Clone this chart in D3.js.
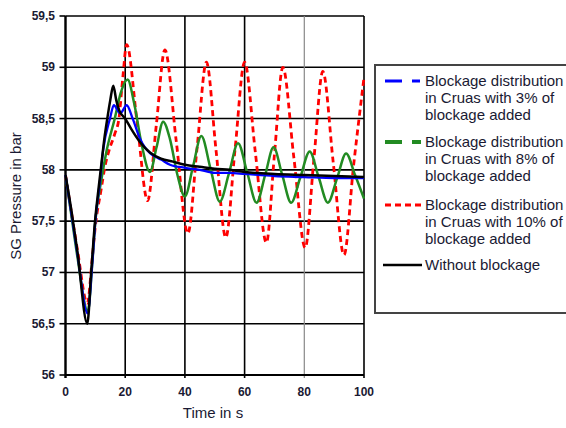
<!DOCTYPE html>
<html><head><meta charset="utf-8">
<script src="https://cdn.jsdelivr.net/npm/d3@7"></script>
<style>body{margin:0;background:#fff}svg{display:block}</style>
</head><body>
<svg id="c" width="566" height="428"></svg>
<script>
const xTicks = [0, 20, 40, 60, 80, 100];
const yTicks = [56, 56.5, 57, 57.5, 58, 58.5, 59, 59.5];
const fmt = v => String(v).replace('.', ',');

const blue3 = [[0,57.95],[2,57.57],[4,57.18],[7.4,56.6],[9,57.1],[10,57.5],[11.5,57.88],[12.6,58.19],[14.9,58.5],[16.2,58.63],[18.3,58.55],[20.5,58.63],[22.5,58.5],[25,58.3],[28.4,58.16],[30,58.13],[32,58.1],[35,58.05],[40,58.02],[45,58.0],[50,57.97],[55,57.97],[60,57.96],[70,57.94],[80,57.93],[90,57.92],[100,57.92]];

const green8 = [[0,57.95],[2,57.55],[4,57.15],[7.5,56.62],[9,57.1],[10,57.5],[12,57.9],[13.8,58.19],[16.5,58.5],[18.5,58.75],[20.8,58.88],[23,58.65],[25.5,58.25],[28.3,57.98],[30.5,58.22],[32.7,58.47],[35,58.3],[37.5,57.95],[40,57.74],[42.7,58.03],[45.5,58.33],[48.6,58.01],[51.7,57.69],[54.8,57.97],[57.8,58.26],[60.9,57.97],[64,57.68],[66.9,57.95],[69.7,58.22],[72.6,57.95],[75.6,57.68],[78.7,57.93],[81.8,58.18],[84.8,57.93],[87.9,57.68],[91,57.92],[94,58.16],[97,57.95],[100,57.72]];

const red10 = [[0,57.95],[2,57.58],[4,57.22],[7.3,56.7],[9,57.15],[10,57.45],[12,57.82],[13.2,58.03],[14.6,58.19],[16.5,58.35],[17.9,58.5],[19.2,58.9],[20.5,59.22],[24,58.46],[27.5,57.7],[30.4,58.43],[33.3,59.17],[37.1,58.28],[41,57.38],[44.1,58.22],[47.2,59.05],[50.4,58.2],[53.7,57.34],[56.8,58.2],[60,59.05],[63.6,58.17],[67.3,57.29],[70,58.15],[72.8,59.0],[76.5,58.12],[80.3,57.24],[83.2,58.1],[86.2,58.96],[89.7,58.07],[93.3,57.17],[96.5,58.04],[100,58.9]];

const noBlock = [[0,57.95],[2,57.6],[4,57.2],[7.3,56.5],[8.6,57.0],[9.9,57.5],[11,57.8],[12,58.05],[13,58.3],[14,58.5],[15,58.68],[16,58.82],[17,58.68],[18,58.58],[20,58.5],[22,58.4],[25,58.27],[28.3,58.17],[32,58.11],[36,58.08],[40,58.05],[45,58.03],[50,58.01],[55,58.0],[60,57.98],[70,57.96],[80,57.95],[90,57.94],[100,57.93]];

const seriesNames = ["Blockage distribution|in Cruas with 3% of|blockage added","Blockage distribution|in Cruas with 8% of|blockage added","Blockage distribution|in Cruas with 10% of|blockage added","Without blockage"];

const svg = d3.select('#c');
const x = d3.scaleLinear().domain([0,100]).range([65.5,364]);
const y = d3.scaleLinear().domain([56,59.5]).range([375,16]);
const FONT = 'Liberation Sans, Arial, sans-serif';
const TXT = '#1a1a33';

// grid
const g = svg.append('g');
g.selectAll('.hg').data(yTicks).join('line')
  .attr('x1', x(0)).attr('x2', x(100)).attr('y1', d=>y(d)).attr('y2', d=>y(d))
  .attr('stroke','#000').attr('stroke-width',1.6);
g.selectAll('.vg').data(xTicks).join('line')
  .attr('x1', d=>x(d)).attr('x2', d=>x(d)).attr('y1', y(59.5)).attr('y2', y(56)+3)
  .attr('stroke', d=> d===80 ? '#888' : '#000').attr('stroke-width', d=> d===80 ? 1.2 : 1.6);
g.append('line').attr('x1',x(0)).attr('x2',x(0)).attr('y1',y(59.5)).attr('y2',y(56)+3).attr('stroke','#000').attr('stroke-width',2.2);
g.append('line').attr('x1',x(0)).attr('x2',x(100)).attr('y1',y(56)).attr('y2',y(56)).attr('stroke','#000').attr('stroke-width',2.2);
g.selectAll('.yt').data(yTicks).join('line')
  .attr('x1', x(0)-6).attr('x2', x(0)).attr('y1', d=>y(d)).attr('y2', d=>y(d))
  .attr('stroke','#000').attr('stroke-width',1.6);
g.selectAll('.yl').data(yTicks).join('text')
  .attr('x', 55).attr('y', d=>y(d)+4).attr('text-anchor','end')
  .attr('font-family',FONT).attr('font-size',12).attr('font-weight','bold').attr('fill',TXT)
  .text(d=>fmt(d));
g.selectAll('.xl').data(xTicks).join('text')
  .attr('x', d=>x(d)).attr('y', 396).attr('text-anchor','middle')
  .attr('font-family',FONT).attr('font-size',12).attr('font-weight','bold').attr('fill',TXT)
  .text(d=>d);
svg.append('text').attr('x', 213).attr('y', 418).attr('text-anchor','middle')
  .attr('font-family',FONT).attr('font-size',15).attr('fill',TXT).text('Time in s');
svg.append('text').attr('transform','translate(21,196) rotate(-90)').attr('text-anchor','middle')
  .attr('font-family',FONT).attr('font-size',15).attr('fill',TXT).text('SG Pressure in bar');

const line = d3.line().x(d=>x(d[0])).y(d=>y(d[1])).curve(d3.curveMonotoneX);
const specs = [
  {data: blue3, color:'#0000ff', w:2.3, dash:null, leg:'17,10,8,200', lw:3},
  {data: green8, color:'#228b22', w:2.5, dash:null, leg:'17,10,10,200', lw:4},
  {data: red10, color:'#ff0000', w:2.8, dash:'6,4', leg:'6,4', lw:3},
  {data: noBlock, color:'#000000', w:2.5, dash:null, leg:null, lw:2.5}
];
const drawOrder = [2,1,0,3];
drawOrder.forEach(i => {
  const s = specs[i];
  svg.append('path').attr('d', line(s.data)).attr('fill','none')
    .attr('stroke', s.color).attr('stroke-width', s.w)
    .attr('stroke-dasharray', s.dash).attr('stroke-linejoin','round');
});

// legend
svg.append('rect').attr('x',375).attr('y',65).attr('width',200).attr('height',248)
  .attr('fill','#fff').attr('stroke','#444').attr('stroke-width',2);
const rowY = [81, 142, 205, 265];
seriesNames.forEach((nm, i) => {
  const s = specs[i];
  svg.append('line').attr('x1', i===3?383:385).attr('x2', i===3?422:421).attr('y1', rowY[i]).attr('y2', rowY[i])
    .attr('stroke', s.color).attr('stroke-width', s.lw).attr('stroke-dasharray', s.leg);
  nm.split('|').forEach((t, j) => {
    svg.append('text').attr('x', 425).attr('y', rowY[i] + 5 + j*17)
      .attr('font-family',FONT).attr('font-size',15).attr('fill',TXT).text(t);
  });
});
</script>
</body></html>
